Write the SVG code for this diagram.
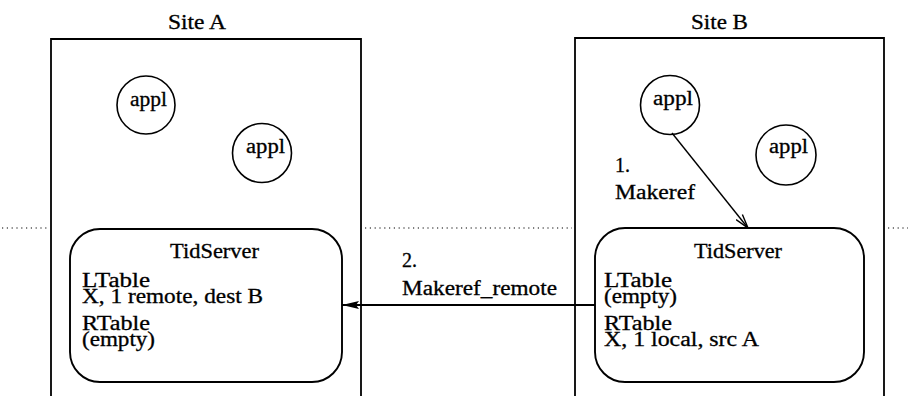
<svg xmlns="http://www.w3.org/2000/svg" width="908" height="396" viewBox="0 0 908 396">
  <style>
    text { font-family: "Liberation Serif", "Times New Roman", serif; font-size: 20px; fill: #000; stroke: #000; stroke-width: 0.3; }
    .site { fill: none; stroke: #000; stroke-width: 1.8; }
    .appl { fill: #fff; stroke: #000; stroke-width: 1.6; }
    .server { fill: #fff; stroke: #000; stroke-width: 1.9; }
    .sep { stroke: #000; stroke-width: 1.2; stroke-dasharray: 1.2 3.6; fill: none; }
    .conn { stroke: #000; fill: none; }
  </style>
  <defs>
    <marker id="barb" markerWidth="16" markerHeight="10" refX="15" refY="5" orient="auto" markerUnits="userSpaceOnUse">
      <path d="M1,1 L15,5 L1,9" fill="none" stroke="#000" stroke-width="1.4"/>
    </marker>
    <marker id="head" markerWidth="18" markerHeight="10" refX="17" refY="5" orient="auto" markerUnits="userSpaceOnUse">
      <path d="M0,1 L17,5 L0,9 L3,5 Z" fill="#000"/>
    </marker>
  </defs>

  <rect width="908" height="396" fill="#fff"/>

  <!-- dotted boundary between application and server levels -->
  <g id="separator">
    <line class="sep" x1="2" y1="228" x2="48" y2="228"/>
    <line class="sep" x1="365" y1="228" x2="572" y2="228"/>
    <line class="sep" x1="888" y1="228" x2="908" y2="228"/>
  </g>

  <!-- Site A -->
  <g id="siteA">
    <path class="site" d="M51,396 V39 H361 V396"/>
    <text x="168" y="29" textLength="58" lengthAdjust="spacingAndGlyphs">Site A</text>
  </g>
  <g id="siteA-appl1">
    <circle class="appl" cx="146" cy="105" r="29"/>
    <text x="130" y="106" textLength="37" lengthAdjust="spacingAndGlyphs">appl</text>
  </g>
  <g id="siteA-appl2">
    <circle class="appl" cx="262" cy="153" r="29.5"/>
    <text x="246" y="153" textLength="39" lengthAdjust="spacingAndGlyphs">appl</text>
  </g>
  <g id="siteA-tidserver">
    <rect class="server" x="70" y="229" width="272" height="153" rx="30" ry="30"/>
    <text x="170" y="258" textLength="89" lengthAdjust="spacingAndGlyphs">TidServer</text>
    <text x="82" y="287" textLength="68" lengthAdjust="spacingAndGlyphs">LTable</text>
    <text x="82" y="303" textLength="181" lengthAdjust="spacingAndGlyphs">X, 1 remote, dest B</text>
    <text x="82" y="330" textLength="68" lengthAdjust="spacingAndGlyphs">RTable</text>
    <text x="82" y="346" textLength="73" lengthAdjust="spacingAndGlyphs">(empty)</text>
  </g>

  <!-- Site B -->
  <g id="siteB">
    <path class="site" d="M575,396 V38 H884 V396"/>
    <text x="691" y="29" textLength="57" lengthAdjust="spacingAndGlyphs">Site B</text>
  </g>
  <g id="siteB-appl1">
    <circle class="appl" cx="670" cy="105" r="29.5"/>
    <text x="653" y="105" textLength="40" lengthAdjust="spacingAndGlyphs">appl</text>
  </g>
  <g id="siteB-appl2">
    <circle class="appl" cx="786" cy="155" r="30"/>
    <text x="769" y="153" textLength="39" lengthAdjust="spacingAndGlyphs">appl</text>
  </g>
  <g id="siteB-tidserver">
    <rect class="server" x="595" y="228" width="269" height="154" rx="30" ry="30"/>
    <text x="694" y="258" textLength="88" lengthAdjust="spacingAndGlyphs">TidServer</text>
    <text x="604" y="287" textLength="68" lengthAdjust="spacingAndGlyphs">LTable</text>
    <text x="604" y="303" textLength="73" lengthAdjust="spacingAndGlyphs">(empty)</text>
    <text x="604" y="330" textLength="68" lengthAdjust="spacingAndGlyphs">RTable</text>
    <text x="604" y="346" textLength="155" lengthAdjust="spacingAndGlyphs">X, 1 local, src A</text>
  </g>

  <!-- connectors -->
  <g id="connectors">
    <line class="conn" x1="672" y1="133" x2="748" y2="228" stroke-width="1.4" marker-end="url(#barb)"/>
    <text x="615" y="172">1.</text>
    <text x="615" y="199" textLength="80" lengthAdjust="spacingAndGlyphs">Makeref</text>

    <line class="conn" x1="595" y1="305" x2="342" y2="305" stroke-width="2.2" marker-end="url(#head)"/>
    <text x="402" y="267">2.</text>
    <text x="402" y="295" textLength="155" lengthAdjust="spacingAndGlyphs">Makeref_remote</text>
  </g>
</svg>
